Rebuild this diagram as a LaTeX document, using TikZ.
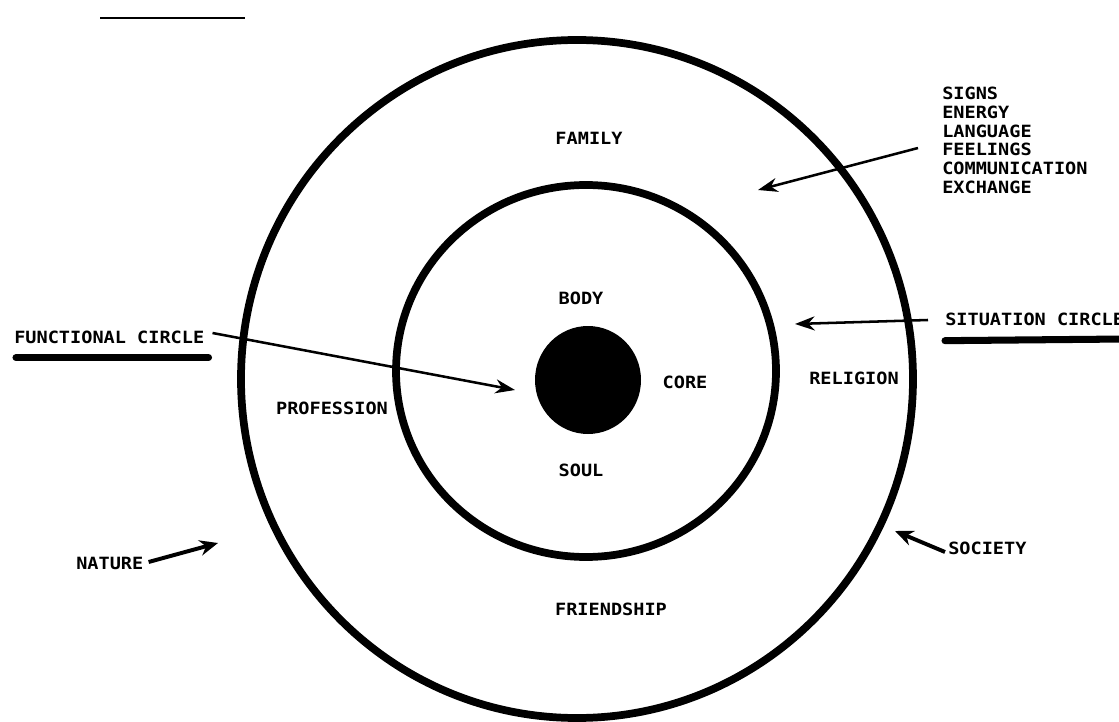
\documentclass[tikz,border=0pt]{standalone}
\usepackage{fontspec}
\setmonofont[FakeStretch=1.1]{DejaVu Sans Mono}
\usetikzlibrary{calc,arrows.meta}

\begin{document}
\begin{tikzpicture}[x=0.025cm,y=-0.025cm,
  lbl/.style={font=\ttfamily\bfseries\fontsize{12}{12}\selectfont, inner sep=0pt},
  ring/.style={line width=5.5pt},
  pointer/.style={-{Stealth[length=14pt,width=10pt]}, line width=1.8pt},
  stub/.style={-{Stealth[length=13pt,width=11pt]}, line width=2.8pt},
  bar/.style={line width=5pt, line cap=round}]
 \useasboundingbox (0,0) rectangle (1119,722);

 % rings
 \draw[ring] (577,379) ellipse [x radius=336, y radius=339];
 \draw[ring] (586,371) ellipse [x radius=190, y radius=186];
 \fill (588,380) ellipse [x radius=53, y radius=54];

 % remnant of the caption
 \draw[line width=2pt] (100,18) -- (245,18);

 \node[lbl] (family) at (589,138) {FAMILY};
 \node[lbl] (body) at (581,298) {BODY};
 \node[lbl] (core) at (685,382) {CORE};
 \node[lbl] (soul) at (581,470) {SOUL};
 \node[lbl] (prof) at (332,408) {PROFESSION};
 \node[lbl] (relig) at (854,378) {RELIGION};
 \node[lbl] (friend) at (611,609) {FRIENDSHIP};

 \node[lbl, anchor=north west, align=left] (signs) at (942,87)
  {SIGNS\\[1.3pt] ENERGY\\[1.3pt] LANGUAGE\\[1.3pt] FEELINGS\\[1.3pt]
   COMMUNICATION\\[1.3pt] EXCHANGE};
 \node[lbl, anchor=west] (func) at (14,337) {FUNCTIONAL CIRCLE};
 \node[lbl, anchor=west] (situ) at (945,319) {SITUATION CIRCLE};
 \node[lbl, anchor=west] (nature) at (76,563) {NATURE};
 \node[lbl, anchor=west] (society) at (948,548) {SOCIETY};

 \coordinate (signsend) at (758,190);
 \coordinate (funcend) at (515,390);
 \coordinate (situend) at (795,324);
 \coordinate (natureend) at (218,543);
 \coordinate (societyend) at (895,531);

 \draw[bar] ($(func.south west)+(2,14)$) -- ($(func.south east)+(4,14)$);
 \draw[bar] ($(situ.south west)+(0,15)$) -- (1125,339);

 \draw[pointer] (918,148) -- (signsend);
 \draw[pointer] ($(func.east)+(8,-4)$) -- (funcend);
 \draw[pointer] (928,320) -- (situend);
 \draw[stub] ($(nature.east)+(5,-1)$) -- (natureend);
 \draw[stub] ($(society.west)+(-3,4)$) -- (societyend);
\end{tikzpicture}
\end{document}
